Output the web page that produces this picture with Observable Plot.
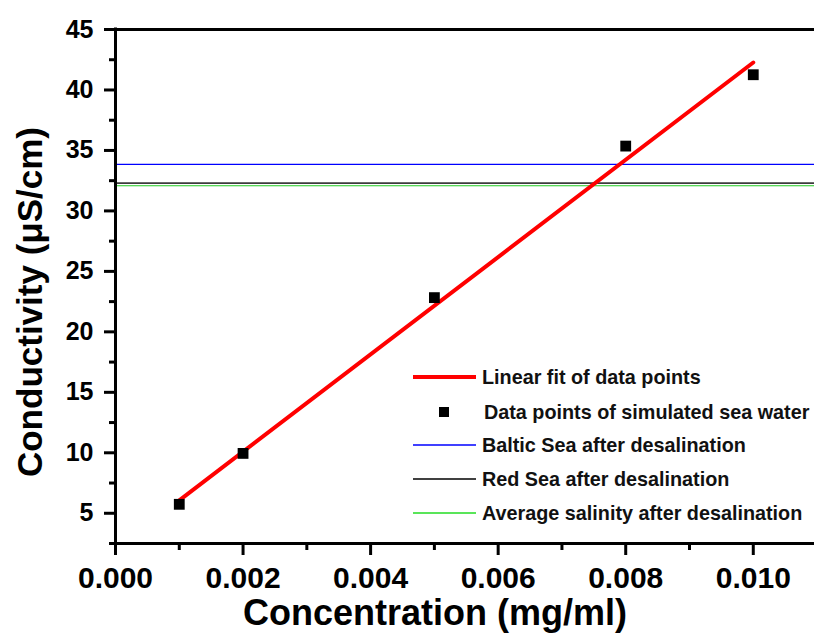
<!DOCTYPE html>
<html>
<head>
<meta charset="utf-8">
<script src="https://cdn.jsdelivr.net/npm/d3@7"></script>
<script src="https://cdn.jsdelivr.net/npm/@observablehq/plot@0.6"></script>
<style>
  body { margin: 0; background: #fff; }
  #wrap { position: relative; width: 814px; height: 637px; overflow: hidden;
          font-family: "Liberation Sans", Arial, sans-serif; font-weight: bold; color: #000; }
  #wrap svg { display: block; }
  .title { position: absolute; white-space: nowrap; font-weight: bold; }
  .legend-row { position: absolute; left: 412px; height: 26px; display: flex; align-items: center;
                font-size: 19.8px; font-weight: bold; color: #111; white-space: nowrap; }
  .legend-row svg { flex: none; }
</style>
</head>
<body>
<div id="wrap"></div>
<script>
// ---- data ----
const concentration = [0.001, 0.002, 0.005, 0.008, 0.010];          // mg/ml
const conductivity  = [5.74, 9.95, 22.83, 35.36, 41.26];            // µS/cm
const fitConcentration = [0.001, 0.010];                            // linear fit end points
const fitConductivity  = [6.07, 42.27];
const refNames  = ["Baltic Sea after desalination", "Red Sea after desalination", "Average salinity after desalination"];
const refValues = [33.84, 32.30, 32.08];
const xMajorTicks = [0, 0.002, 0.004, 0.006, 0.008, 0.010];
const xMinorTicks = [0.001, 0.003, 0.005, 0.007, 0.009];
const yMajorTicks = [5, 10, 15, 20, 25, 30, 35, 40, 45];
const yMinorTicks = [2.5, 7.5, 12.5, 17.5, 22.5, 27.5, 32.5, 37.5, 42.5];
const xTitle = "Concentration (mg/ml)";
const yTitle = "Conductivity (\u03bcS/cm)";
const fitName = "Linear fit of data points";
const pointsName = "Data points of simulated sea water";

const points = concentration.map((c, i) => ({c, v: conductivity[i]}));
const fit = fitConcentration.map((c, i) => ({c, v: fitConductivity[i]}));

const chart = Plot.plot({
  width: 814,
  height: 637,
  marginLeft: 115,
  marginRight: 0,
  marginTop: 29,
  marginBottom: 94,
  x: {domain: [0, 0.01096]},
  y: {domain: [2.5, 45]},
  style: {fontFamily: "'Liberation Sans', Arial, sans-serif", fontWeight: "bold", color: "#000", background: "#fff", overflow: "visible"},
  marks: [
    Plot.ruleY([refValues[0]], {stroke: "#0000ff", strokeWidth: 1.3}),
    Plot.ruleY([refValues[1]], {stroke: "#3c3c3c", strokeWidth: 1.8}),
    Plot.ruleY([refValues[2]], {stroke: "#22cc22", strokeWidth: 1.2}),
    Plot.line(fit, {x: "c", y: "v", stroke: "#ff0000", strokeWidth: 4}),
    Plot.dot(points, {x: "c", y: "v", symbol: "square", r: 6.1, fill: "#000", stroke: "none"}),
    // axes lines
    Plot.ruleX([0], {strokeWidth: 3, stroke: "#000", strokeLinecap: "square"}),
    Plot.ruleY([2.5], {strokeWidth: 3, stroke: "#000", strokeLinecap: "square"}),
    Plot.ruleY([45], {strokeWidth: 3, stroke: "#000"}),
    // ticks
    Plot.axisX({ticks: xMajorTicks, tickSize: 12, tickPadding: 11, tickFormat: d3.format(".3f"),
                fontSize: 30, strokeWidth: 3, label: null}),
    Plot.axisX({ticks: xMinorTicks, tickSize: 7, tickFormat: () => "", strokeWidth: 3, label: null}),
    Plot.axisY({ticks: yMajorTicks, tickSize: 11, tickPadding: 11, tickFormat: d => String(d),
                fontSize: 25, strokeWidth: 3, label: null}),
    Plot.axisY({ticks: yMinorTicks, tickSize: 6, tickFormat: () => "", strokeWidth: 3, label: null})
  ]
});

const wrap = document.getElementById("wrap");
wrap.appendChild(chart);

// axis titles
const xt = document.createElement("div");
xt.className = "title";
xt.textContent = xTitle;
xt.style.cssText = "font-size:36px;left:435px;top:613px;transform:translate(-50%,-50%);";
wrap.appendChild(xt);

const yt = document.createElement("div");
yt.className = "title";
yt.textContent = yTitle;
yt.style.cssText = "font-size:35px;left:30px;top:302px;transform:translate(-50%,-50%) rotate(-90deg);";
wrap.appendChild(yt);

// legend
const legendItems = [
  {name: fitName, kind: "line", color: "#ff0000", w: 4, y: 377, pad: 6},
  {name: pointsName, kind: "square", color: "#000", w: 0, y: 412, pad: 8},
  {name: refNames[0], kind: "line", color: "#0000ff", w: 1.3, y: 445, pad: 6},
  {name: refNames[1], kind: "line", color: "#000000", w: 1.3, y: 479, pad: 6},
  {name: refNames[2], kind: "line", color: "#22dd22", w: 1.3, y: 513, pad: 6}
];
for (const it of legendItems) {
  const row = document.createElement("div");
  row.className = "legend-row";
  row.style.top = (it.y - 13) + "px";
  const sw = it.kind === "line"
    ? `<svg width="64" height="26"><line x1="1" x2="64" y1="13" y2="13" stroke="${it.color}" stroke-width="${it.w}"/></svg>`
    : `<svg width="64" height="26"><rect x="27" y="8" width="10" height="10" fill="${it.color}"/></svg>`;
  row.innerHTML = sw + `<span style="margin-left:${it.pad}px">${it.name}</span>`;
  wrap.appendChild(row);
}
</script>
</body>
</html>
